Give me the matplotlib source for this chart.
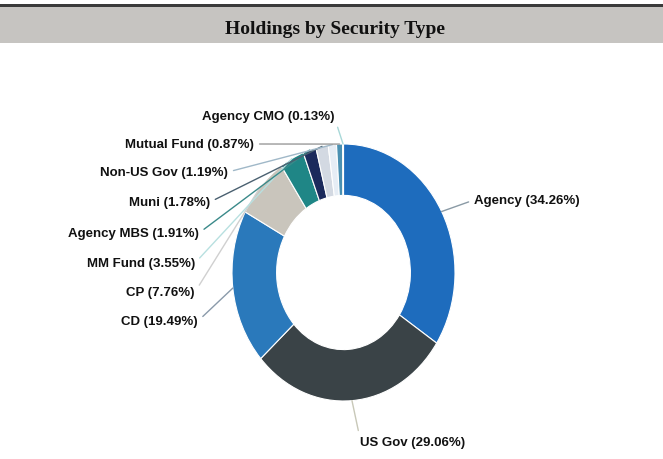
import matplotlib
matplotlib.use("Agg")
import matplotlib.pyplot as plt
import numpy as np
from matplotlib.patches import Rectangle

categories = ["Agency", "US Gov", "CD", "CP", "MM Fund", "Agency MBS",
              "Muni", "Non-US Gov", "Mutual Fund", "Agency CMO"]
values = [34.26, 29.06, 19.49, 7.76, 3.55, 1.91, 1.78, 1.19, 0.87, 0.13]
colors = ["#1e6cbd", "#3a4347", "#2a79bb", "#c9c5bc", "#1f8686", "#1b2a5c",
          "#d3d9e2", "#e6edf5", "#4a90b2", "#111111"]
line_colors = ["#8a9aa5", "#c8c8b8", "#8a9aaa", "#d0d0d0", "#b8e0e0", "#3a8a8a",
               "#4a6070", "#a0b8c8", "#9a9a9a", "#a8d8d8"]

W, H = 663, 460
fig = plt.figure(figsize=(W / 100, H / 100), dpi=100)
fig.patch.set_facecolor("white")

# title band
fig.patches.append(Rectangle((0, 1 - 44 / H), 1, 38 / H, transform=fig.transFigure,
                             facecolor="#c6c4c1", edgecolor="none", zorder=0))
fig.patches.append(Rectangle((0, 1 - 8 / H), 1, 3.5 / H, transform=fig.transFigure,
                             facecolor="#3a3a3a", edgecolor="none", zorder=1))
fig.text(335 / W, 1 - 29 / H, "Holdings by Security Type", ha="center", va="center",
         fontsize=14, fontweight="bold", family="Liberation Serif", color="#111111")

# donut axes (elliptical)
left, right, top, bottom = 232, 455, 145, 402
ax = fig.add_axes([left / W, 1 - bottom / H, (right - left) / W, (bottom - top) / H])
wedges, _ = ax.pie(values, colors=colors, startangle=90, counterclock=False, radius=1,
                   wedgeprops=dict(width=0.4, edgecolor="white", linewidth=0.8))
ax.set_aspect("auto")
ax.set_xlim(-1, 1)
ax.set_ylim(-1, 1)
ax.axis("off")

# label positions (image pixels): x, y, ha
label_pos = {
    "Agency": (474, 201, "left"),
    "US Gov": (360, 443, "left"),
    "CD": (198, 322, "right"),
    "CP": (195, 293, "right"),
    "MM Fund": (195, 264, "right"),
    "Agency MBS": (199, 234, "right"),
    "Muni": (210, 203, "right"),
    "Non-US Gov": (228, 173, "right"),
    "Mutual Fund": (254, 145, "right"),
    "Agency CMO": (334, 117, "right"),
}

for w, cat, val, lc in zip(wedges, categories, values, line_colors):
    th = np.deg2rad((w.theta1 + w.theta2) / 2)
    anchor = (np.cos(th), np.sin(th))
    x, y, ha = label_pos[cat]
    if cat == "US Gov":
        relpos = (0.0, 0.8)
    elif ha == "left":
        relpos = (0.0, 0.5)
    else:
        relpos = (1.0, 0.5)
    ax.annotate(f"{cat} ({val:.2f}%)", xy=anchor, xycoords="data",
                xytext=(x / W, 1 - y / H), textcoords="figure fraction",
                ha=ha, va="center", fontsize=9.5, fontweight="bold",
                family="Liberation Sans", color="#111111",
                arrowprops=dict(arrowstyle="-", color=lc, lw=1.0, relpos=relpos,
                                shrinkA=2, shrinkB=0),
                annotation_clip=False)

fig.savefig("out.png", dpi=100, facecolor="white")
